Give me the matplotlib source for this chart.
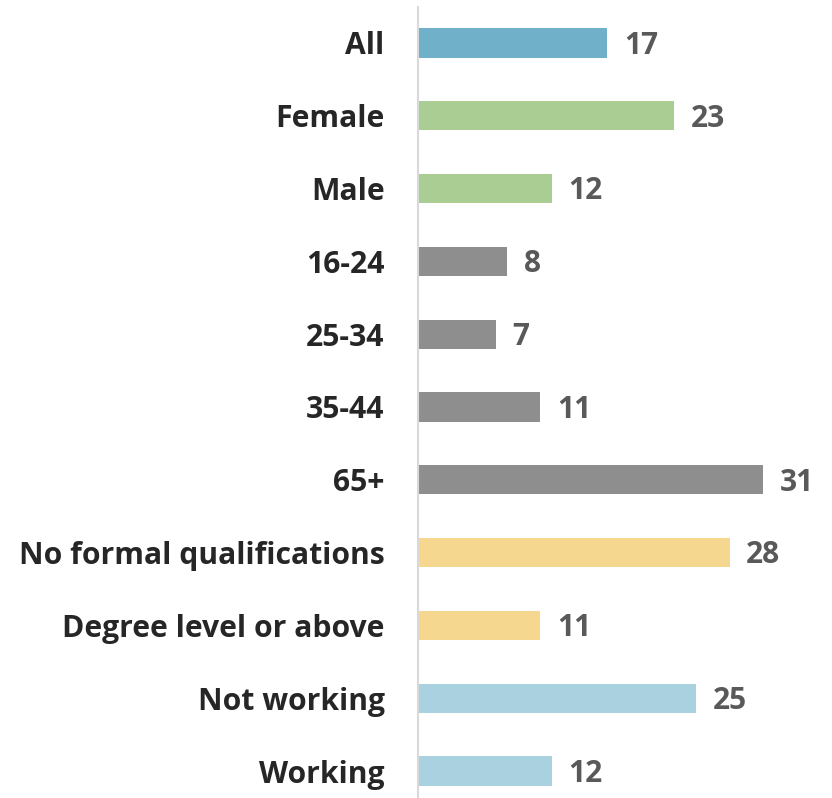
import matplotlib
matplotlib.use("Agg")
import matplotlib.pyplot as plt

categories = ["All", "Female", "Male", "16-24", "25-34", "35-44", "65+",
              "No formal qualifications", "Degree level or above",
              "Not working", "Working"]
values = [17, 23, 12, 8, 7, 11, 31, 28, 11, 25, 12]
colors = ["#70b0c8", "#a9cd93", "#a9cd93", "#8e8e8f", "#8e8e8f", "#8e8e8f",
          "#8e8e8f", "#f5d790", "#f5d790", "#a9d1df", "#a9d1df"]

plt.rcParams['font.family'] = ['Open Sans', 'DejaVu Sans']

W, H = 832, 798
fig = plt.figure(figsize=(W / 100, H / 100), dpi=100)
step = 72.8
top_px = 43 - step / 2
bot_px = 771 + step / 2
left_px = 418
right_px = 830
ax = fig.add_axes([left_px / W, (H - bot_px) / H, (right_px - left_px) / W, (bot_px - top_px) / H])

y = list(range(len(categories)))
ax.barh(y, values, height=0.4, color=colors)
ax.set_ylim(len(categories) - 0.5, -0.5)
ax.set_xlim(0, (right_px - left_px) / 11.13)

for yi, v in zip(y, values):
    ax.annotate(str(v), (v, yi), xytext=(12, -2), textcoords="offset points",
                ha="left", va="center", fontsize=21.5, fontweight="bold", color="#595959")

ax.set_yticks(y)
ax.set_yticklabels(categories, fontsize=21.7, fontweight="bold", color="#262626")
ax.tick_params(axis="y", length=0, pad=24)
ax.set_xticks([])
for s in ["top", "right", "bottom"]:
    ax.spines[s].set_visible(False)
ax.spines["left"].set_color("#d9d9d9")
ax.spines["left"].set_linewidth(1.5)

fig.savefig("out.png", dpi=100)
